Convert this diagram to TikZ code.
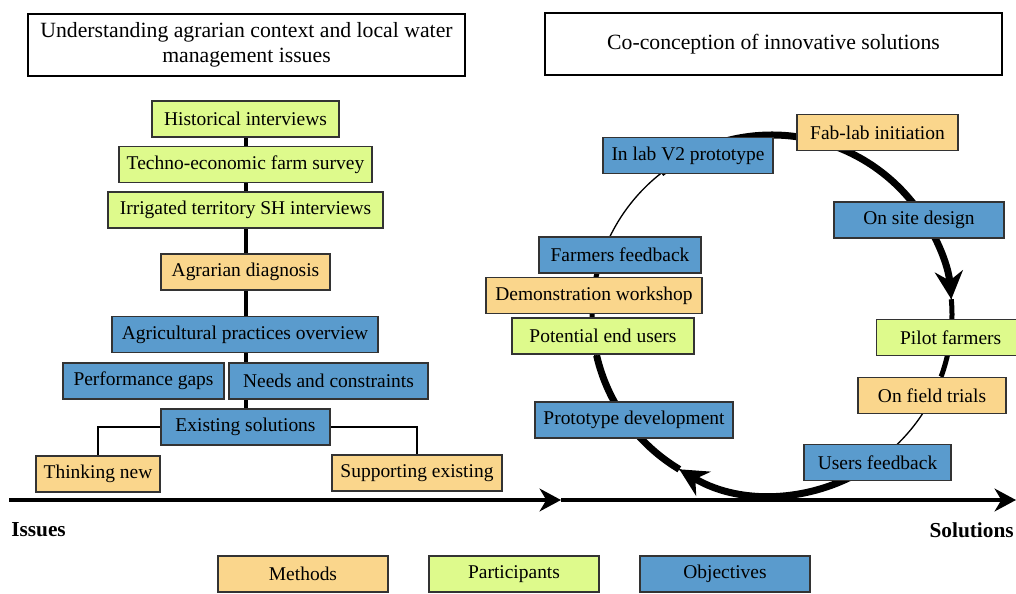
\documentclass[tikz,border=0pt]{standalone}
\usepackage{fontspec}
\setmainfont{Liberation Serif}
\usetikzlibrary{arrows.meta, calc, backgrounds}
\definecolor{meth}{HTML}{FAD68C}
\definecolor{part}{HTML}{DEFA8C}
\definecolor{obj}{HTML}{5A9BCD}
\definecolor{edge}{HTML}{333333}

\begin{document}
\begin{tikzpicture}[
    x=0.75pt, y=0.75pt,
    >=Stealth,
    box/.style={draw=edge, line width=1pt, inner xsep=2pt, inner ysep=0pt,
                minimum height=27pt, font=\fontsize{14.6}{17}\selectfont},
    mbox/.style={box, fill=meth},
    pbox/.style={box, fill=part},
    obox/.style={box, fill=obj},
    title/.style={draw, line width=0.8pt, align=center, minimum height=46.5pt,
                  font=\fontsize{16.3}{19}\selectfont},
    axlab/.style={inner sep=0pt, font=\fontsize{16}{19}\selectfont\bfseries},
    trunk/.style={line width=3pt},
    branch/.style={line width=1.1pt},
    thickarc/.style={line width=5.25pt},
    midarc/.style={line width=3.75pt},
    thinarc/.style={line width=1pt},
    cyctip/.style={-{Stealth[length=21pt, width=21pt, inset=7pt]}},
    axis/.style={line width=3pt, -{Stealth[length=16pt, width=17pt, inset=5pt]}},
]

\useasboundingbox (0,0) rectangle (1016,593);

\node[title, minimum width=327.75pt] (context) at (246.5,548)
    {Understanding agrarian context and local water\\management issues};
\node[title, minimum width=342.75pt] (coconc) at (773.5,549)
    {Co-conception of innovative solutions};

\node[pbox, minimum width=140.25pt] (hist)   at (245.5,474)   {Historical interviews};
\node[pbox, minimum width=189.75pt] (techno) at (245.5,428.5) {Techno-economic farm survey};
\node[pbox, minimum width=206.25pt] (irrig)  at (245.5,383)   {Irrigated territory SH interviews};
\node[mbox, minimum width=126.75pt] (agdiag) at (245.5,321)   {Agrarian diagnosis};
\node[obox, minimum width=199.5pt]  (agprac) at (245,258.5)   {Agricultural practices overview};
\node[obox, minimum width=120.75pt] (perf)   at (143.5,212)   {Performance gaps};
\node[obox, minimum width=149.25pt] (needs)  at (328.5,212)   {Needs and constraints};
\node[obox, minimum width=126.75pt] (exist)  at (245.5,166)   {Existing solutions};
\node[mbox, minimum width=93pt]     (think)  at (98,119)      {Thinking new};
\node[mbox, minimum width=127.5pt]  (supp)   at (417,120)     {Supporting existing};

\coordinate (cc) at (772,278);
\node[mbox, minimum width=120.75pt] (fablab)   at (877.5,460.5) {Fab-lab initiation};
\node[obox, minimum width=127.5pt]  (inlab)    at (688,437.5)   {In lab V2 prototype};
\node[obox, minimum width=127.5pt]  (onsite)   at (919,373)     {On site design};
\node[obox, minimum width=121.5pt]  (farmfb)   at (620,338)     {Farmers feedback};
\node[mbox, minimum width=162pt]    (demo)     at (594,297.5)   {Demonstration workshop};
\node[pbox, minimum width=136.5pt]  (potent)   at (603,257)     {Potential end users};
\node[obox, minimum width=148.5pt]  (protodev) at (634,173)     {Prototype development};
\node[pbox, minimum width=111pt, anchor=west] (pilot) at (876,255.5) {Pilot farmers};
\node[mbox, minimum width=111pt]    (onfield)  at (932,197.5)   {On field trials};
\node[obox, minimum width=110.25pt] (usersfb)  at (877.5,130.5) {Users feedback};

\coordinate (axs) at (9,93);
\coordinate (axm) at (561,93);
\coordinate (axe) at (1016,93);
\node[axlab, anchor=west] (issues) at (11,63) {Issues};
\node[axlab, anchor=east] (solut) at (1014,63) {Solutions};

\node[mbox, minimum width=127.5pt] (methods) at (303,19) {Methods};
\node[pbox, minimum width=127.5pt] (partic)  at (514,19) {Participants};
\node[obox, minimum width=127.5pt] (object)  at (725,19) {Objectives};

\begin{scope}[on background layer]
\draw[trunk] (hist.south) -- (exist.north);
\draw[branch] (exist.west) -| (think.north);
\draw[branch] (exist.east) -| (supp.north);

\draw[thinarc] (cc) circle[radius=135pt];
\draw[thickarc, cyctip] ($(cc)+(128:135pt)$) arc[start angle=128, end angle=5, radius=135pt];
\draw[midarc] ($(cc)+(5:135pt)$) arc[start angle=5, end angle=-20, radius=135pt];
\draw[thickarc, cyctip] ($(cc)+(-50:135pt)$) arc[start angle=-50, end angle=-121, radius=135pt];
\draw[thickarc] ($(cc)+(-121:135pt)$) arc[start angle=-121, end angle=-167, radius=135pt];
\draw[midarc] ($(cc)+(-167:135pt)$) arc[start angle=-167, end angle=-200, radius=135pt];
\end{scope}

\draw[axis] (axs) -- (axm);
\draw[axis] (axm) -- (axe);

\end{tikzpicture}
\end{document}
